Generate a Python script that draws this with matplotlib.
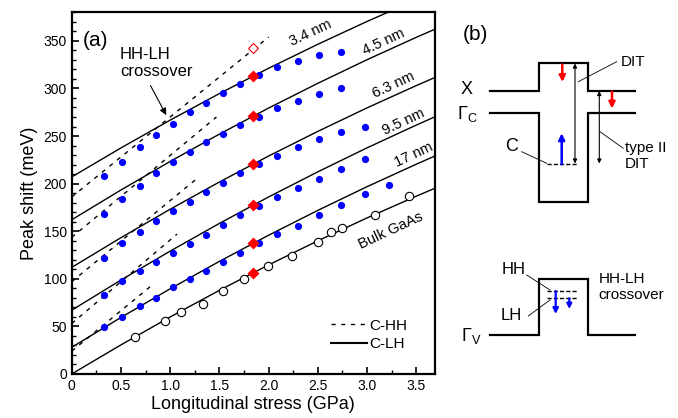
import matplotlib.pyplot as plt
from matplotlib.ticker import MultipleLocator
from matplotlib.lines import Line2D

plt.rcParams['font.family'] = ['Liberation Sans', 'DejaVu Sans']
plt.rcParams['mathtext.fontset'] = 'custom'
plt.rcParams['mathtext.rm'] = 'Liberation Sans'

# ---- panel (a) data ----
widths = ['3.4 nm', '4.5 nm', '6.3 nm', '9.5 nm', '17 nm', 'Bulk GaAs']

lh_stress = [0, 0.5, 1.0, 1.5, 2.0, 2.5, 3.0, 3.5, 3.7]
lh_shift = [
    [207, 237.5, 266.7, 294.6, 321.2, 346.4, 370.4, 393.1, 401.8],
    [162, 193.3, 223.3, 252.0, 279.4, 305.4, 330.2, 353.7, 362.7],
    [112, 143.2, 173.1, 201.7, 229.0, 254.9, 279.6, 303.0, 312.0],
    [67, 98.7, 129.1, 158.2, 186.0, 212.4, 237.6, 261.5, 270.7],
    [28, 59.4, 89.5, 118.3, 145.8, 171.9, 196.8, 220.4, 229.5],
    [0, 30.6, 59.9, 87.9, 114.6, 139.9, 164.0, 186.8, 195.6],
]

# C-HH calculated lines (start / end)
hh_stress = [[0, 2.0], [0, 1.47], [0, 1.28], [0, 1.07], [0, 0.8]]
hh_shift = [[186, 354], [143.6, 270], [97, 206], [53, 147], [24, 92]]

# measured peaks of the quantum wells
qw_stress = [0.33, 0.51, 0.69, 0.86, 1.03, 1.20, 1.36, 1.54, 1.71, 1.90,
             2.09, 2.30, 2.51, 2.74, 2.98, 3.22]
qw_shift = [
    [208.3, 223, 238.4, 251, 262.3, 274.9, 284.7, 294.9, 304.6, 314,
     322.8, 328.8, 334.8, 337.9],
    [167.8, 183.8, 197.5, 210.8, 222.4, 233.5, 243.4, 252.4, 261.6, 270.3,
     279.4, 287.1, 294.1, 300.1],
    [122.2, 137.6, 148.8, 160.4, 171.2, 181, 190.9, 201, 210.8, 220.6,
     229, 238.4, 246.8, 253.9, 259.8],
    [83, 98, 107.9, 117.3, 126.8, 136.2, 146, 156.5, 167.3, 176.8,
     186.2, 195.7, 205.1, 215.3, 225.5],
    [49, 60.2, 71.1, 80.1, 91, 99.8, 108.5, 118, 127.4, 137.3,
     146.7, 155.8, 167, 177.5, 188.8, 198.5],
]

# bulk GaAs
bulk_stress = [0.643, 0.948, 1.111, 1.331, 1.541, 1.75, 1.99, 2.24, 2.50,
               2.63, 2.75, 3.08, 3.43]
bulk_shift = [39.2, 56, 64.8, 73.5, 87.2, 99.5, 113.4, 124.3, 139, 148.8,
              153.7, 167.3, 187]

# red diamonds
dia_stress = [1.845] * 6
dia_shift = [313, 271, 220.6, 177.5, 137.3, 106.4]
open_dia_stress = [1.845]
open_dia_shift = [342.7]

fig = plt.figure(figsize=(6.78, 4.18), dpi=100)
ax = fig.add_axes([0.1058, 0.1053, 0.5358, 0.8653])

for ys in lh_shift:
    ax.plot(lh_stress, ys, color='black', lw=1.0)
for xs, ys in zip(hh_stress, hh_shift):
    ax.plot(xs, ys, color='black', lw=1.0, dashes=(3, 4))

for ys in qw_shift:
    ax.plot(qw_stress[:len(ys)], ys, 'o', color='#0000ff', ms=5.2, mec='none',
            zorder=3)
ax.plot(bulk_stress, bulk_shift, 'o', mfc='white', mec='black', ms=6,
        mew=0.8, zorder=3)
ax.plot(dia_stress, dia_shift, 'D', color='#ff0000', ms=6, mec='none',
        zorder=4)
ax.plot(open_dia_stress, open_dia_shift, 'D', mfc='white', mec='#ff0000',
        ms=5, mew=0.8, zorder=4)

# curve labels
label_pos = [(2.43, 358), (3.17, 349), (3.27, 304), (3.37, 265),
             (3.47, 230), (3.24, 151)]
for (lx, ly), txt in zip(label_pos, widths):
    ax.text(lx, ly, txt, fontsize=10.5, rotation=25, ha='center',
            va='center', rotation_mode='anchor')

ax.text(0.11, 350, '(a)', fontsize=15, ha='left', va='center')
ax.text(0.49, 327, 'HH-LH\ncrossover', fontsize=12, ha='left', va='center',
        linespacing=1.15)
ax.annotate('', xy=(0.96, 272), xytext=(0.80, 303),
            arrowprops=dict(arrowstyle='-|>', color='black', lw=0.8,
                            mutation_scale=10, shrinkA=0, shrinkB=0))

handles = [Line2D([], [], color='black', lw=1.0, dashes=(3, 4)),
           Line2D([], [], color='black', lw=1.5)]
ax.legend(handles, ['C-HH', 'C-LH'], loc='lower left',
          bbox_to_anchor=(0.675, 0.025), frameon=False, fontsize=11,
          handlelength=2.4, handletextpad=0.15, labelspacing=0.3)

ax.set_xlim(0, 3.69)
ax.set_ylim(0, 380)
ax.xaxis.set_major_locator(MultipleLocator(0.5))
ax.xaxis.set_minor_locator(MultipleLocator(0.25))
ax.yaxis.set_major_locator(MultipleLocator(50))
ax.yaxis.set_minor_locator(MultipleLocator(10))
ax.set_xticks([0, 0.5, 1.0, 1.5, 2.0, 2.5, 3.0, 3.5])
ax.set_xticklabels(['0', '0.5', '1.0', '1.5', '2.0', '2.5', '3.0', '3.5'])
ax.tick_params(which='both', direction='in', top=False, right=False,
               labelsize=10)
ax.tick_params(which='major', length=5, width=1.2)
ax.tick_params(which='minor', length=3, width=1.0)
for sp in ax.spines.values():
    sp.set_linewidth(1.6)
ax.set_xlabel('Longitudinal stress (GPa)', fontsize=13, labelpad=2)
ax.set_ylabel('Peak shift (meV)', fontsize=13, labelpad=4)

# ---- panel (b): band-edge schematic (pixel-like units) ----
band_x = [490, 539, 539, 587.7, 587.7, 635]
x_band_y = [90.7, 90.7, 63.3, 63.3, 90.7, 90.7]
gc_band_y = [112.7, 112.7, 201.7, 201.7, 113.3, 113.3]
gv_band_y = [335, 335, 279.3, 279.3, 335, 335]
c_level = [164.3, 164.3]
hh_level = [291, 291]
lh_level = [298.3, 298.3]
level_x = [546.7, 578.3]

axb = fig.add_axes([0.66, 0, 0.34, 1])
axb.set_xlim(447.5, 678)
axb.set_ylim(418, 0)
axb.axis('off')

for by in (x_band_y, gc_band_y, gv_band_y):
    axb.plot(band_x, by, color='black', lw=1.6, solid_joinstyle='miter')
for ly in (c_level, hh_level, lh_level):
    axb.plot(level_x, ly, color='black', lw=1.0, dashes=(3, 1.5))

def arrow(x0, y0, x1, y1, color, style='-|>', lw=1.6, ms=9):
    axb.annotate('', xy=(x1, y1), xytext=(x0, y0),
                 arrowprops=dict(arrowstyle=style, color=color, lw=lw,
                                 mutation_scale=ms, shrinkA=0, shrinkB=0))

arrow(562.3, 64.5, 562.3, 82, 'red', lw=1.8)
arrow(612, 91.5, 612, 108.5, 'red', lw=1.8)
arrow(561.7, 164.3, 561.7, 133.3, 'blue', lw=1.8)
arrow(575, 63.5, 575, 163.5, 'black', '<|-|>', 0.8, 6)
arrow(599.3, 91, 599.3, 163.5, 'black', '<|-|>', 0.8, 6)
arrow(555.7, 291, 555.7, 314, 'blue', lw=1.6, ms=8)
arrow(569.3, 298.3, 569.3, 309, 'blue', lw=1.6, ms=7)

# leader lines
for (x0, y0, x1, y1) in [(616.7, 61.7, 578.3, 81.7),
                         (600, 131.7, 623.3, 148.3),
                         (521.7, 151.7, 546.7, 163.3),
                         (526.7, 275, 550, 290),
                         (528.3, 316, 550, 300)]:
    axb.plot([x0, x1], [y0, y1], color='black', lw=0.6)

axb.text(463, 35, '(b)', fontsize=15, ha='left', va='center')
axb.text(466.7, 89.3, 'X', fontsize=13, ha='center', va='center')
axb.text(467, 114, r'$\Gamma_{\rm C}$', fontsize=13, ha='center',
         va='center')
axb.text(511.7, 146.7, 'C', fontsize=13, ha='center', va='center')
axb.text(621, 61.7, 'DIT', fontsize=11, ha='left', va='center')
axb.text(625, 156, 'type II\nDIT', fontsize=11, ha='left', va='center',
         linespacing=1.1)
axb.text(513.3, 270, 'HH', fontsize=12, ha='center', va='center')
axb.text(511.7, 315, 'LH', fontsize=12, ha='center', va='center')
axb.text(598.3, 287, 'HH-LH\ncrossover', fontsize=11, ha='left',
         va='center', linespacing=1.1)
axb.text(471, 336, r'$\Gamma_{\rm V}$', fontsize=13, ha='center',
         va='center')

fig.savefig('out.png', dpi=100)
